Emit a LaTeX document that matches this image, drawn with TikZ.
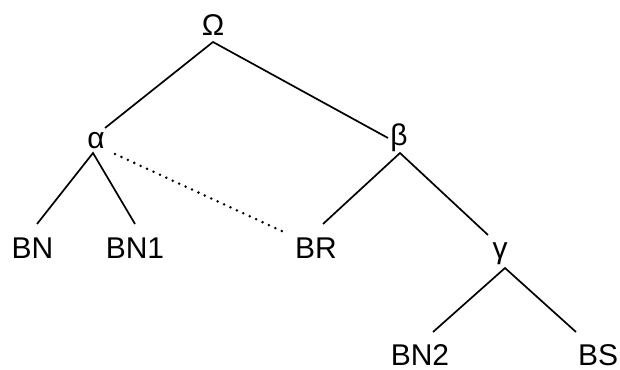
\documentclass[tikz,border=0pt]{standalone}
\usepackage{fontspec}
\setmainfont{Liberation Sans}
\begin{document}
\begin{tikzpicture}[x=0.75pt,y=-0.75pt,
  lbl/.style={anchor=base,inner sep=0pt,font=\fontsize{22.5}{27}\selectfont},
  branch/.style={line width=1.7pt*0.75},
  linkdots/.style={line width=2.8pt*0.75,line cap=round,dash pattern=on 0pt off 5.3pt}]
\useasboundingbox (0,0) rectangle (620,370);
% labels
\node[lbl] (Om) at (213,36) {Ω};
\node[lbl] (al) at (96,149) {α};
\node[lbl] (be) at (399,146) {β};
\node[lbl] (ga) at (500,258) {γ};
\node[lbl] (bn) at (32.5,258) {BN};
\node[lbl] (bn1) at (135,258) {BN1};
\node[lbl] (br) at (316,258) {BR};
\node[lbl] (bn2) at (420,365) {BN2};
\node[lbl] (bs) at (598,365) {BS};
% attachment points
\coordinate (Om-b) at (213,42);
\coordinate (al-t) at (105,128);
\coordinate (al-b) at (93,153);
\coordinate (al-r) at (115,154);
\coordinate (be-t) at (388,138);
\coordinate (be-b) at (400,153);
\coordinate (ga-t) at (488,235);
\coordinate (ga-b) at (505,268);
\coordinate (bn-t) at (37,224);
\coordinate (bn1-t) at (135,224);
\coordinate (br-l) at (286,233);
\coordinate (br-t) at (323,224);
\coordinate (bn2-t) at (433,332);
\coordinate (bs-t) at (576,332);
% tree branches
\draw[branch] (al-t) -- (Om-b) -- (be-t);
\draw[branch] (bn-t) -- (al-b) -- (bn1-t);
\draw[branch] (br-t) -- (be-b) -- (ga-t);
\draw[branch] (bn2-t) -- (ga-b) -- (bs-t);
% dotted link
\draw[linkdots] (al-r) -- (br-l);
\end{tikzpicture}
\end{document}
